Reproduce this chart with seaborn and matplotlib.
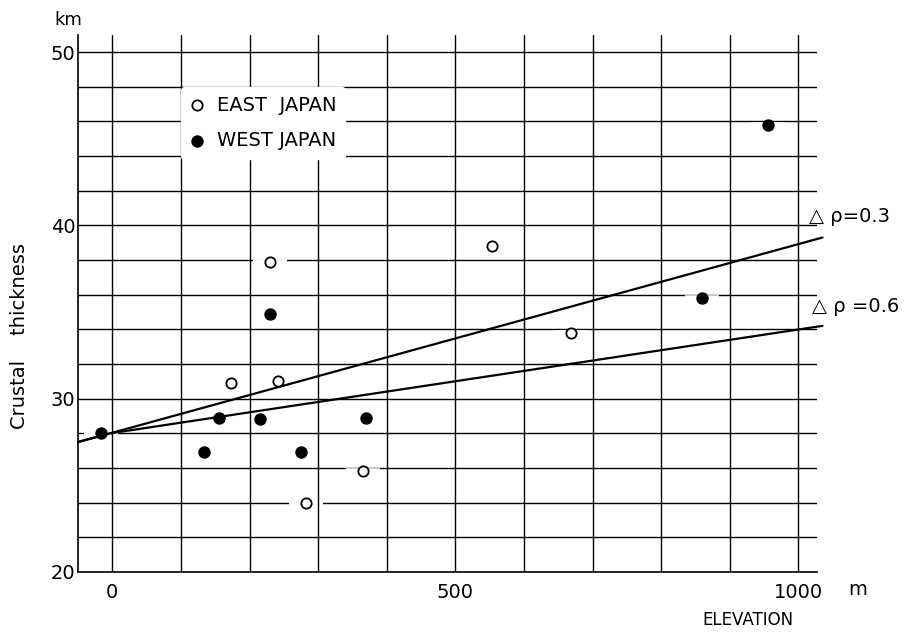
import numpy as np
import pandas as pd
import matplotlib
matplotlib.use("Agg")
import matplotlib.pyplot as plt
import seaborn as sns

# Data (elevation in m, crustal thickness in km)
east_elev = [173, 230, 242, 283, 365, 554, 668]
east_thick = [30.9, 37.9, 31.0, 24.0, 25.8, 38.8, 33.8]
west_elev = [-17, 134, 155, 215, 230, 275, 370, 860, 955]
west_thick = [28.0, 26.9, 28.9, 28.8, 34.9, 26.9, 28.9, 35.8, 45.8]

# isostatic lines for two density contrasts
line_elev = [-50, -3, 1035]
line_03 = [27.5, 28.0, 39.3]
line_06 = [27.5, 28.0, 34.2]

x_ticks = [0, 500, 1000]
y_ticks = [20, 30, 40, 50]
x_grid = list(range(0, 1001, 100))
y_grid = list(range(22, 51, 2))

df = pd.concat([
    pd.DataFrame({"elev": east_elev, "thick": east_thick, "region": "EAST  JAPAN"}),
    pd.DataFrame({"elev": west_elev, "thick": west_thick, "region": "WEST JAPAN"}),
], ignore_index=True)

sns.set_style("white")
plt.rcParams["font.family"] = ["DejaVu Sans"]
plt.rcParams["text.color"] = "black"
plt.rcParams["axes.labelcolor"] = "black"

fig = plt.figure(figsize=(9.09, 6.33), dpi=100)
ax = fig.add_axes([0.0858, 0.0964, 0.8130, 0.8488])
ax.set_xlim(-50, 1027)
ax.set_ylim(20, 51)

# grid drawn by hand: horizontal first, then white gaps beside points, then vertical
for y in y_grid:
    ax.axhline(y, color="black", lw=1.0, zorder=1)
on_line = df[np.abs(df["thick"] - np.round(df["thick"] / 2) * 2) < 0.3]
ax.plot(on_line["elev"], on_line["thick"], ls="none", marker="_", ms=24,
        mew=4, color="white", zorder=1.5)
for x in x_grid:
    ax.axvline(x, color="black", lw=1.0, zorder=2)

# theoretical lines
ax.plot(line_elev, line_03, color="black", lw=1.6, zorder=3, clip_on=False)
ax.plot(line_elev, line_06, color="black", lw=1.6, zorder=3, clip_on=False)

east = df[df["region"] == "EAST  JAPAN"]
west = df[df["region"] == "WEST JAPAN"]
sns.scatterplot(data=east, x="elev", y="thick", ax=ax, s=55, facecolor="white",
                edgecolor="black", linewidth=1.3, label="EAST  JAPAN", zorder=4)
sns.scatterplot(data=west, x="elev", y="thick", ax=ax, s=80, color="black",
                edgecolor="black", linewidth=0, label="WEST JAPAN", zorder=4)

leg = ax.legend(loc="upper left", bbox_to_anchor=(0.139, 0.903), frameon=True,
                facecolor="white", edgecolor="white", framealpha=1, fontsize=14,
                handlelength=0.8, handletextpad=0.6, borderpad=0.45,
                labelspacing=0.85, markerscale=1.0, borderaxespad=0)
leg.set_zorder(5)
for t in leg.get_texts():
    t.set_color("black")

for s in ["top", "right"]:
    ax.spines[s].set_visible(False)
for s in ["left", "bottom"]:
    ax.spines[s].set_color("black")
    ax.spines[s].set_linewidth(1.2)

ax.set_xticks(x_ticks)
ax.set_yticks(y_ticks)
ax.tick_params(axis="both", length=0, labelsize=14, colors="black")
ax.tick_params(axis="x", pad=8)
ax.tick_params(axis="y", pad=2)
ax.set_xlabel("")
ax.set_ylabel("")

ax.text(1015, 40.5, "△ ρ=0.3", fontsize=14, va="center", ha="left", clip_on=False)
ax.text(1020, 35.3, "△ ρ =0.6", fontsize=14, va="center", ha="left", clip_on=False)

fig.text(0.060, 0.968, "km", fontsize=13, va="center", ha="left")
fig.text(0.022, 0.469, "Crustal    thickness", fontsize=14, rotation=90,
         va="center", ha="center")
fig.text(0.933, 0.068, "m", fontsize=14, va="center", ha="left")
fig.text(0.823, 0.02, "ELEVATION", fontsize=12, va="center", ha="center")

fig.savefig("out.png", dpi=100)
